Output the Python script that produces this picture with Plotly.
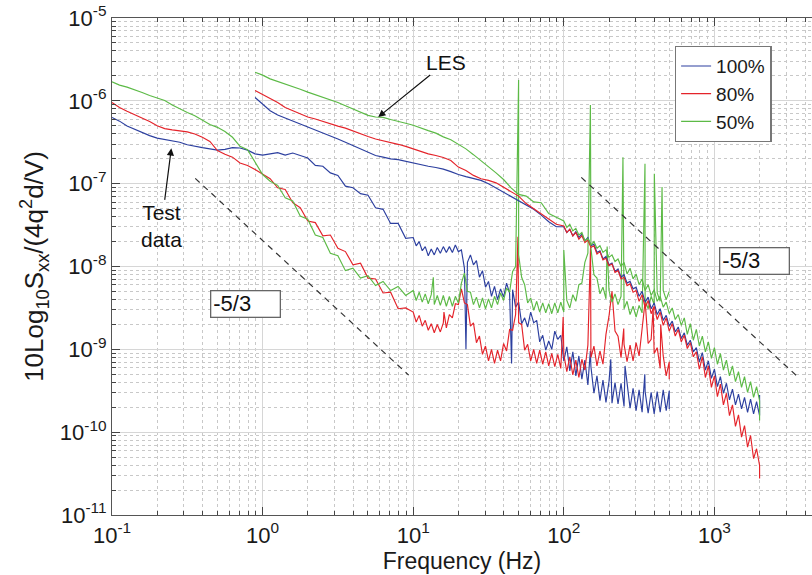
import numpy as np
import plotly.graph_objects as go

# ---------------- frequency grids (Hz) ----------------
freq_test_lo = [0.1, 0.1122, 0.1259, 0.1413, 0.1585, 0.1778, 0.1995, 0.2239, 0.2512, 0.2818,
                0.3162, 0.3548, 0.3981, 0.4467, 0.5012, 0.5623, 0.631, 0.7079, 0.7943, 0.8913,
                1.0, 1.122, 1.259, 1.413, 1.585, 1.778, 1.995, 2.239, 2.512, 2.818,
                3.162, 3.548, 3.981, 4.467, 5.012, 5.623, 6.31, 7.079, 7.943, 8.913]
freq_test_hi = [10.0, 10.47, 10.96, 11.48, 12.02, 12.59, 13.18, 13.8, 14.45, 15.14,
                15.85, 16.6, 17.38, 18.2, 19.05, 19.95, 20.89, 21.88, 22.91, 23.99,
                25.12, 26.3, 27.54, 28.84, 30.2, 31.62, 33.11, 34.67, 36.31, 38.02,
                39.81, 41.69, 43.65, 45.71, 47.86, 50.12, 52.48, 54.95, 57.54, 60.26,
                63.1, 66.07, 69.18, 72.44, 75.86, 79.43, 83.18, 87.1, 91.2, 95.5,
                100.0, 104.7, 109.6, 114.8, 120.2, 125.9, 131.8, 138.0, 144.5, 151.4,
                158.5, 166.0, 173.8, 182.0, 190.5, 199.5, 208.9, 218.8, 229.1, 239.9,
                251.2, 263.0, 275.4, 288.4, 302.0, 316.2, 331.1, 346.7, 363.1, 380.2,
                398.1, 416.9, 436.5, 457.1, 478.6, 501.2]
freq_les_lo = [0.8913, 1.0, 1.122, 1.259, 1.413, 1.585, 1.778, 1.995, 2.239, 2.512, 2.818,
               3.162, 3.548, 3.981, 4.467, 5.012, 5.623, 6.31, 7.079, 7.943, 8.913,
               10.0, 11.22, 12.59, 14.13, 15.85, 17.78, 19.95, 22.39, 25.12, 28.18,
               31.62, 35.48, 39.81, 44.67, 50.12, 56.23, 63.1, 70.79, 79.43, 89.13]
freq_les_hi = [100.0, 104.7, 109.6, 114.8, 120.2, 125.9, 131.8, 138.0, 144.5, 151.4,
               158.5, 166.0, 173.8, 182.0, 190.5, 199.5, 208.9, 218.8, 229.1, 239.9,
               251.2, 263.0, 275.4, 288.4, 302.0, 316.2, 331.1, 346.7, 363.1, 380.2,
               398.1, 416.9, 436.5, 457.1, 478.6, 501.2, 524.8, 549.5, 575.4, 602.6,
               631.0, 660.7, 691.8, 724.4, 758.6, 794.3, 831.8, 871.0, 912.0, 955.0,
               1000, 1047, 1096, 1148, 1202, 1259, 1318, 1380, 1445, 1514,
               1585, 1660, 1738, 1820, 1905, 1995]

# ---------------- PSD values (log10 of S_xx) ----------------
# Test data, 100 %
test100_lo = [-6.20, -6.245, -6.305, -6.345, -6.38, -6.42, -6.45, -6.465, -6.48, -6.50,
              -6.53, -6.55, -6.565, -6.58, -6.595, -6.586, -6.565, -6.57, -6.595, -6.64,
              -6.655, -6.64, -6.625, -6.655, -6.63, -6.66, -6.69, -6.78, -6.79, -6.87,
              -6.90, -7.03, -7.05, -7.12, -7.14, -7.29, -7.31, -7.48, -7.48, -7.66]
test100_hi = [-7.65, -7.75, -7.70, -7.81, -7.76, -7.87, -7.79, -7.86, -7.77, -7.84,
              -7.76, -7.83, -7.76, -7.83, -7.74, -7.82, -7.80, -8.02, -7.95, -7.86,
              -7.98, -7.93, -8.13, -8.05, -8.25, -8.18, -8.36, -8.24, -8.40, -8.27,
              -8.37, -8.20, -8.32, -8.28, -8.49, -8.43, -8.69, -8.62, -8.73, -8.55,
              -8.68, -8.65, -8.91, -8.83, -9.01, -8.90, -9.00, -8.78, -8.88, -8.83,
              -9.14, -8.97, -9.26, -9.03, -9.32, -9.08, -9.36, -9.13, -9.43, -9.21,
              -9.53, -9.32, -9.62, -9.37, -9.64, -9.39, -9.65, -9.40, -9.66, -9.41,
              -9.69, -9.44, -9.71, -9.47, -9.74, -9.49, -9.76, -9.51, -9.77, -9.52,
              -9.78, -9.51, -9.76, -9.49, -9.74, -9.50]
test100_peak_f = [22.4, 45.0, 150.0, 205.0, 255.0, 345.0, 501.2]
test100_peak_v = [-9.00, -9.17, -9.02, -9.12, -9.20, -9.30, -9.72]

# Test data, 80 %
test80_lo = [-6.02, -6.08, -6.125, -6.165, -6.21, -6.25, -6.30, -6.335, -6.35, -6.365,
             -6.375, -6.40, -6.44, -6.49, -6.60, -6.645, -6.68, -6.75, -6.78, -6.83,
             -6.89, -6.94, -7.05, -7.07, -7.23, -7.29, -7.45, -7.47, -7.63, -7.62,
             -7.78, -7.82, -7.98, -7.96, -8.14, -8.15, -8.32, -8.31, -8.51, -8.50]
test80_hi = [-8.55, -8.67, -8.59, -8.72, -8.65, -8.77, -8.69, -8.80, -8.70, -8.79,
             -8.68, -8.74, -8.58, -8.62, -8.45, -8.46, -8.27, -8.44, -8.46, -8.72,
             -8.68, -8.92, -8.84, -9.06, -8.96, -9.14, -9.00, -9.17, -9.01, -9.14,
             -8.93, -9.02, -8.76, -8.77, -8.58, -8.68, -8.70, -9.01, -8.94, -9.14,
             -9.00, -9.17, -9.01, -9.18, -9.03, -9.20, -9.05, -9.21, -9.06, -9.23,
             -9.06, -9.27, -9.09, -9.31, -9.13, -9.34, -9.12, -9.25, -8.95, -9.10,
             -8.96, -9.20, -9.02, -9.18, -8.82, -8.60, -8.30, -8.78, -8.84, -9.10,
             -8.94, -9.15, -8.95, -9.14, -8.92, -9.08, -8.72, -8.42, -8.93, -8.88,
             -9.05, -8.98, -9.23, -9.08, -9.32, -9.15]
test80_peak_f = [16.0, 49.6, 99.0, 150.5, 250.0, 392.0, 440.0, 501.2]
test80_peak_v = [-8.55, -7.64, -8.61, -7.77, -8.75, -8.50, -8.70, -9.36]

# Test data, 50 %
test50_lo = [-5.77, -5.81, -5.835, -5.865, -5.90, -5.935, -5.965, -5.995, -6.05, -6.10,
             -6.14, -6.18, -6.23, -6.285, -6.32, -6.37, -6.44, -6.55, -6.59, -6.74,
             -6.89, -6.97, -7.02, -7.17, -7.21, -7.39, -7.43, -7.62, -7.65, -7.84,
             -7.87, -8.05, -8.02, -8.14, -8.11, -8.23, -8.18, -8.29, -8.24, -8.35]
test50_hi = [-8.29, -8.41, -8.31, -8.43, -8.33, -8.45, -8.34, -8.46, -8.35, -8.47,
             -8.35, -8.48, -8.36, -8.48, -8.36, -8.44, -8.20, -8.08, -8.30, -8.31,
             -8.46, -8.37, -8.50, -8.38, -8.51, -8.39, -8.50, -8.36, -8.46, -8.32,
             -8.41, -8.26, -8.31, -8.06, -8.00, -7.86, -8.13, -8.22, -8.44, -8.38,
             -8.53, -8.42, -8.55, -8.44, -8.56, -8.45, -8.57, -8.44, -8.56, -8.43,
             -8.55, -8.41, -8.50, -8.34, -8.42, -8.22, -8.20, -7.95, -7.84, -7.78,
             -8.10, -8.14, -8.33, -8.25, -8.39, -8.29, -8.43, -8.33, -8.46, -8.36,
             -8.51, -8.42, -8.58, -8.48, -8.61, -8.47, -8.56, -8.41, -8.51, -8.36,
             -8.46, -8.32, -8.42, -8.29, -8.40, -8.30]
test50_peak_f = [13.6, 50.1, 100.0, 150.2, 194.0, 247.0, 346.0, 399.0, 449.0]
test50_peak_v = [-8.13, -5.75, -7.80, -6.05, -7.76, -6.68, -6.76, -6.88, -7.04]

# LES, 100 %
les100_lo = [-5.96, -6.04, -6.12, -6.17, -6.21, -6.245, -6.28, -6.315, -6.35, -6.39,
             -6.425, -6.46, -6.50, -6.54, -6.585, -6.625, -6.66, -6.68, -6.70, -6.71,
             -6.73, -6.755, -6.775, -6.79, -6.805, -6.825, -6.855, -6.89, -6.915, -6.935,
             -6.96, -7.00, -7.05, -7.11, -7.16, -7.21, -7.26, -7.31, -7.38, -7.46, -7.52]
les100_hi = [-7.52, -7.59, -7.55, -7.63, -7.58, -7.65, -7.61, -7.69, -7.65, -7.75,
             -7.73, -7.83, -7.81, -7.91, -7.88, -7.98, -7.96, -8.06, -8.03, -8.13,
             -8.10, -8.20, -8.18, -8.27, -8.25, -8.36, -8.30, -8.43, -8.37, -8.51,
             -8.44, -8.58, -8.51, -8.65, -8.59, -8.72, -8.66, -8.79, -8.73, -8.87,
             -8.80, -8.95, -8.89, -9.03, -8.98, -9.15, -9.04, -9.25, -9.14, -9.35,
             -9.24, -9.45, -9.33, -9.53, -9.41, -9.61, -9.48, -9.67, -9.54, -9.72,
             -9.58, -9.76, -9.60, -9.78, -9.63, -9.80]
les100_end_f = [1995]
les100_end_v = [-9.55]

# LES, 80 %
les80_lo = [-5.875, -5.92, -5.97, -6.02, -6.08, -6.12, -6.16, -6.195, -6.22, -6.25,
            -6.28, -6.305, -6.33, -6.365, -6.40, -6.43, -6.46, -6.48, -6.50, -6.525,
            -6.55, -6.58, -6.61, -6.64, -6.66, -6.685, -6.72, -6.80, -6.84, -6.90,
            -6.94, -6.96, -6.99, -7.04, -7.10, -7.15, -7.24, -7.30, -7.36, -7.43, -7.49]
les80_hi = [-7.51, -7.59, -7.55, -7.63, -7.59, -7.67, -7.63, -7.71, -7.68, -7.77,
            -7.75, -7.85, -7.82, -7.92, -7.90, -7.99, -7.97, -8.07, -8.05, -8.15,
            -8.13, -8.23, -8.21, -8.31, -8.29, -8.42, -8.34, -8.50, -8.41, -8.57,
            -8.48, -8.64, -8.55, -8.71, -8.62, -8.78, -8.69, -8.84, -8.76, -8.91,
            -8.83, -8.99, -8.92, -9.09, -9.03, -9.24, -9.09, -9.34, -9.20, -9.46,
            -9.32, -9.57, -9.42, -9.67, -9.53, -9.80, -9.67, -9.93, -9.79, -10.06,
            -9.92, -10.18, -10.04, -10.32, -10.20, -10.40]
les80_end_f = [1995]
les80_end_v = [-10.56]

# LES, 50 %
les50_lo = [-5.655, -5.69, -5.735, -5.765, -5.80, -5.83, -5.86, -5.895, -5.925, -5.955,
            -5.99, -6.02, -6.06, -6.10, -6.14, -6.175, -6.195, -6.20, -6.225, -6.245,
            -6.27, -6.295, -6.33, -6.36, -6.39, -6.435, -6.47, -6.52, -6.58, -6.65,
            -6.72, -6.79, -6.87, -6.95, -7.05, -7.13, -7.15, -7.22, -7.23, -7.36, -7.41]
les50_hi = [-7.45, -7.53, -7.49, -7.57, -7.54, -7.62, -7.59, -7.69, -7.66, -7.74,
            -7.70, -7.78, -7.75, -7.83, -7.80, -7.89, -7.86, -7.94, -7.91, -8.00,
            -7.95, -8.09, -8.02, -8.15, -8.09, -8.22, -8.15, -8.29, -8.22, -8.35,
            -8.28, -8.42, -8.36, -8.49, -8.43, -8.57, -8.50, -8.64, -8.58, -8.71,
            -8.62, -8.82, -8.69, -8.89, -8.76, -8.96, -8.84, -9.03, -8.91, -9.11,
            -8.98, -9.18, -9.05, -9.25, -9.13, -9.32, -9.20, -9.39, -9.27, -9.46,
            -9.33, -9.52, -9.39, -9.58, -9.45, -9.62]
les50_end_f = [1995]
les50_end_v = [-9.86]

# -5/3 reference slopes (frequency, PSD end points)
slope_left_f = [0.357, 9.33]
slope_left_p = [1.158e-7, 4.88e-10]
slope_right_f = [130.6, 3540.0]
slope_right_p = [1.19e-7, 4.74e-10]

# annotation targets (frequency, PSD)
les_arrow_target = (5.86, 6.37e-7)
test_arrow_target = (0.2477, 2.67e-7)

series_names = ["100%", "80%", "50%"]
colors = {"100%": "#2c3f9f", "80%": "#e4232a", "50%": "#5cba46"}


def assemble(f_parts, v_parts):
    f = np.concatenate([np.asarray(p, dtype=float) for p in f_parts])
    v = np.concatenate([np.asarray(p, dtype=float) for p in v_parts])
    idx = np.argsort(f, kind="stable")
    return f[idx], 10.0 ** v[idx]


test_series = {
    "100%": assemble([freq_test_lo, freq_test_hi, test100_peak_f], [test100_lo, test100_hi, test100_peak_v]),
    "80%": assemble([freq_test_lo, freq_test_hi, test80_peak_f], [test80_lo, test80_hi, test80_peak_v]),
    "50%": assemble([freq_test_lo, freq_test_hi, test50_peak_f], [test50_lo, test50_hi, test50_peak_v]),
}
les_series = {
    "100%": assemble([freq_les_lo, freq_les_hi, les100_end_f], [les100_lo, les100_hi, les100_end_v]),
    "80%": assemble([freq_les_lo, freq_les_hi, les80_end_f], [les80_lo, les80_hi, les80_end_v]),
    "50%": assemble([freq_les_lo, freq_les_hi, les50_end_f], [les50_lo, les50_hi, les50_end_v]),
}

FONT = "Liberation Sans, Arial, Helvetica, sans-serif"
fig = go.Figure()

for name in series_names:
    f, p = test_series[name]
    fig.add_trace(go.Scatter(x=f, y=p, mode="lines", name=name, legendgroup=name,
                             line=dict(color=colors[name], width=1.15)))
for name in series_names:
    f, p = les_series[name]
    fig.add_trace(go.Scatter(x=f, y=p, mode="lines", name=name, legendgroup=name,
                             showlegend=False, line=dict(color=colors[name], width=1.15)))

for sf, sp in [(slope_left_f, slope_left_p), (slope_right_f, slope_right_p)]:
    fig.add_trace(go.Scatter(x=sf, y=sp, mode="lines", showlegend=False, hoverinfo="skip",
                             line=dict(color="#333333", width=1.2, dash="6px,5px")))

x_major = [0.1, 1, 10, 100, 1000]
x_text = ["10<sup>-1</sup>", "10<sup>0</sup>", "10<sup>1</sup>", "10<sup>2</sup>", "10<sup>3</sup>"]
y_major = [1e-11, 1e-10, 1e-9, 1e-8, 1e-7, 1e-6, 1e-5]
y_text = ["10<sup>-11</sup>", "10<sup>-10</sup>", "10<sup>-9</sup>", "10<sup>-8</sup>",
          "10<sup>-7</sup>", "10<sup>-6</sup>", "10<sup>-5</sup>"]
x_minor = [m * 10.0 ** k for k in range(-1, 4) for m in range(2, 10)]
y_minor = [m * 10.0 ** k for k in range(-11, -5) for m in range(2, 10)]

axis_common = dict(
    type="log", showline=True, linecolor="#555555", linewidth=1.2,
    ticks="inside", ticklen=8, tickwidth=1, tickcolor="#444444",
    showgrid=True, gridcolor="#d6d6d6", gridwidth=1, zeroline=False,
    tickfont=dict(family=FONT, size=22, color="#1a1a1a"),
)

fig.update_layout(
    width=812, height=575,
    margin=dict(l=112, r=0, t=18, b=60),
    paper_bgcolor="white", plot_bgcolor="white",
    font=dict(family=FONT, color="#1a1a1a"),
    xaxis=dict(
        axis_common, range=[-1, 3.648], mirror="ticks",
        tickmode="array", tickvals=x_major, ticktext=x_text,
        minor=dict(tickmode="array", tickvals=x_minor, ticks="inside", ticklen=4,
                   tickcolor="#444444", showgrid=True, gridcolor="#c8c8c8", griddash="dot"),
        title=dict(text="Frequency (Hz)", font=dict(family=FONT, size=23), standoff=6),
    ),
    yaxis=dict(
        axis_common, range=[-11, -5], mirror=False,
        tickmode="array", tickvals=y_major, ticktext=y_text,
        minor=dict(tickmode="array", tickvals=y_minor, ticks="inside", ticklen=4,
                   tickcolor="#444444", showgrid=True, gridcolor="#c8c8c8", griddash="dot"),
        title=dict(text="10Log<sub>10</sub>S<sub>xx</sub>/(4q<sup>2</sup>d/V)",
                   font=dict(family=FONT, size=26), standoff=8),
    ),
    legend=dict(x=0.804, y=0.944, xanchor="left", yanchor="top",
                bgcolor="white", bordercolor="#777777", borderwidth=1.3,
                font=dict(family=FONT, size=19, color="#1a1a1a"),
                itemwidth=30, tracegroupgap=0),
    showlegend=True,
)

annotations = [
    dict(x=np.log10(les_arrow_target[0]), y=np.log10(les_arrow_target[1]), xref="x", yref="y",
         text="LES", showarrow=True, arrowhead=2, arrowsize=1.2, arrowwidth=1.2, arrowcolor="#111111",
         ax=68, ay=-55, font=dict(family=FONT, size=21, color="#111111")),
    dict(x=np.log10(test_arrow_target[0]), y=np.log10(test_arrow_target[1]), xref="x", yref="y",
         text="Test<br>data", showarrow=True, arrowhead=2, arrowsize=1.2, arrowwidth=1.2,
         arrowcolor="#111111", ax=-10, ay=78, font=dict(family=FONT, size=21, color="#111111")),
    dict(x=0.191, y=0.4245, xref="paper", yref="paper", xanchor="center", yanchor="middle",
         text="-5/3", showarrow=False,
         width=64, height=21, align="left", borderpad=2, bordercolor="#666666", borderwidth=1.3,
         bgcolor="white", font=dict(family=FONT, size=22, color="#111111")),
    dict(x=0.9176, y=0.512, xref="paper", yref="paper", xanchor="center", yanchor="middle",
         text="-5/3", showarrow=False,
         width=64, height=21, align="left", borderpad=2, bordercolor="#666666", borderwidth=1.3,
         bgcolor="white", font=dict(family=FONT, size=22, color="#111111")),
]
fig.update_layout(annotations=annotations)

fig.write_html("out.html")
